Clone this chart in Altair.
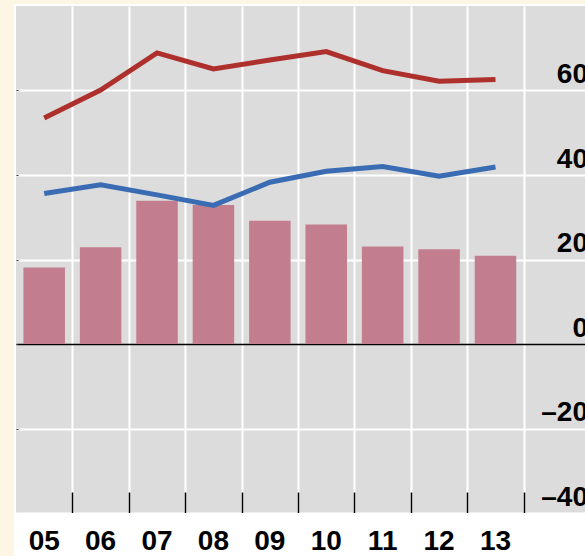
import altair as alt
import pandas as pd

# Series values per year
years = ["05", "06", "07", "08", "09", "10", "11", "12", "13"]
bar_values = [18.1, 22.9, 33.9, 32.9, 29.2, 28.3, 23.1, 22.4, 20.9]
red_values = [53.5, 60.1, 68.9, 65.1, 67.2, 69.2, 64.7, 62.2, 62.6]
blue_values = [35.6, 37.7, 35.3, 32.8, 38.3, 40.9, 42.0, 39.7, 41.9]
y_ticks = [-40, -20, 0, 20, 40, 60]
y_domain = [-40, 80]

PLOT_W, PLOT_H = 569, 507
OUTER = 0.5435
STEP = PLOT_W / (len(years) + 2 * OUTER)
FONT = "Liberation Sans"

df = pd.DataFrame({"year": years, "bars": bar_values,
                   "red": red_values, "blue": blue_values})

x_scale = alt.Scale(domain=years, paddingInner=0, paddingOuter=OUTER, align=0)
y_scale = alt.Scale(domain=y_domain, nice=False, zero=False)

# bottom axis: year labels, drawn above the white strip below the plot
label_axis = alt.Axis(
    orient="bottom", title=None, labelAngle=0, ticks=False, domain=False,
    grid=False, zindex=1,
    labelPadding=36.5, labelBaseline="alphabetic", labelAlign="center",
    labelFontSize=28, labelFontWeight="bold", labelColor="black", labelFont=FONT,
)

# vertical white gridlines between years
grid_axis = alt.Axis(
    orient="bottom", title=None, labels=False, ticks=False, domain=False,
    grid=True, gridColor="white", gridWidth=2,
    tickBand="center", tickOffset=STEP / 2,
)

# short black ticks rising from the bottom edge between years
tick_axis = alt.Axis(
    orient="top", offset=-PLOT_H, title=None, labels=False, domain=False,
    grid=False, ticks=True, tickSize=21, tickColor="black", tickWidth=1.5,
    tickBand="center", tickOffset=STEP / 2,
)

# right value axis, labels sitting inside the plot above each gridline
y_axis = alt.Axis(
    orient="right", values=y_ticks, title=None, ticks=False, domain=False,
    grid=True,
    gridColor={"condition": {"test": "datum.value === 0", "value": "black"}, "value": "white"},
    gridWidth={"condition": {"test": "datum.value === 0", "value": 1.5}, "value": 2},
    labelExpr="datum.value < 0 ? '\u2013' + abs(datum.value) : '' + datum.value",
    labelAlign="right", labelBaseline="alphabetic", labelPadding=2.5,
    labelOffset=-8, labelFontSize=28, labelFontWeight="bold",
    labelColor="black", labelFont=FONT,
)

# tiny ticks along the left edge
left_ticks = alt.Axis(
    orient="left", offset=-2, values=[-20, 0, 20, 40, 60], title=None,
    labels=False, domain=False, grid=False, tickSize=2, tickColor="#333333",
)

one = pd.DataFrame({"k": [0]})
strip = alt.Chart(one).mark_rect(color="white")
top_strip = strip.encode(x=alt.value(-2), x2=alt.value(PLOT_W), y=alt.value(-2), y2=alt.value(0))
left_strip = strip.encode(x=alt.value(-2), x2=alt.value(0), y=alt.value(-2), y2=alt.value(PLOT_H + 43))
bottom_strip = strip.encode(x=alt.value(-2), x2=alt.value(PLOT_W), y=alt.value(PLOT_H), y2=alt.value(PLOT_H + 43))

base = alt.Chart(df)

bars = base.mark_bar(color="#c27e8e", width=alt.RelativeBandSize(0.736)).encode(
    x=alt.X("year:N", scale=x_scale, sort=years, axis=label_axis),
    y=alt.Y("bars:Q", scale=y_scale, axis=y_axis),
)

red_line = base.mark_line(color="#ad302d", strokeWidth=5).encode(
    x=alt.X("year:N", scale=x_scale, sort=years, axis=tick_axis),
    y=alt.Y("red:Q", scale=y_scale, axis=left_ticks),
)

blue_line = base.mark_line(color="#3a6cb3", strokeWidth=5).encode(
    x=alt.X("year:N", scale=x_scale, sort=years, axis=grid_axis),
    y=alt.Y("blue:Q", scale=y_scale, axis=None),
)

chart = (
    alt.layer(top_strip, left_strip, bottom_strip, bars, red_line, blue_line)
    .resolve_axis(x="independent", y="independent")
    .properties(
        width=PLOT_W, height=PLOT_H,
        autosize=alt.AutoSizeParams(type="none"),
        padding={"left": 16, "top": 6, "right": 0, "bottom": 43},
        background="#fdf6e4",
    )
    .configure_view(fill="#dcdcdc", stroke=None)
)

chart.save("out.html", embed_options={"renderer": "svg", "actions": False})
